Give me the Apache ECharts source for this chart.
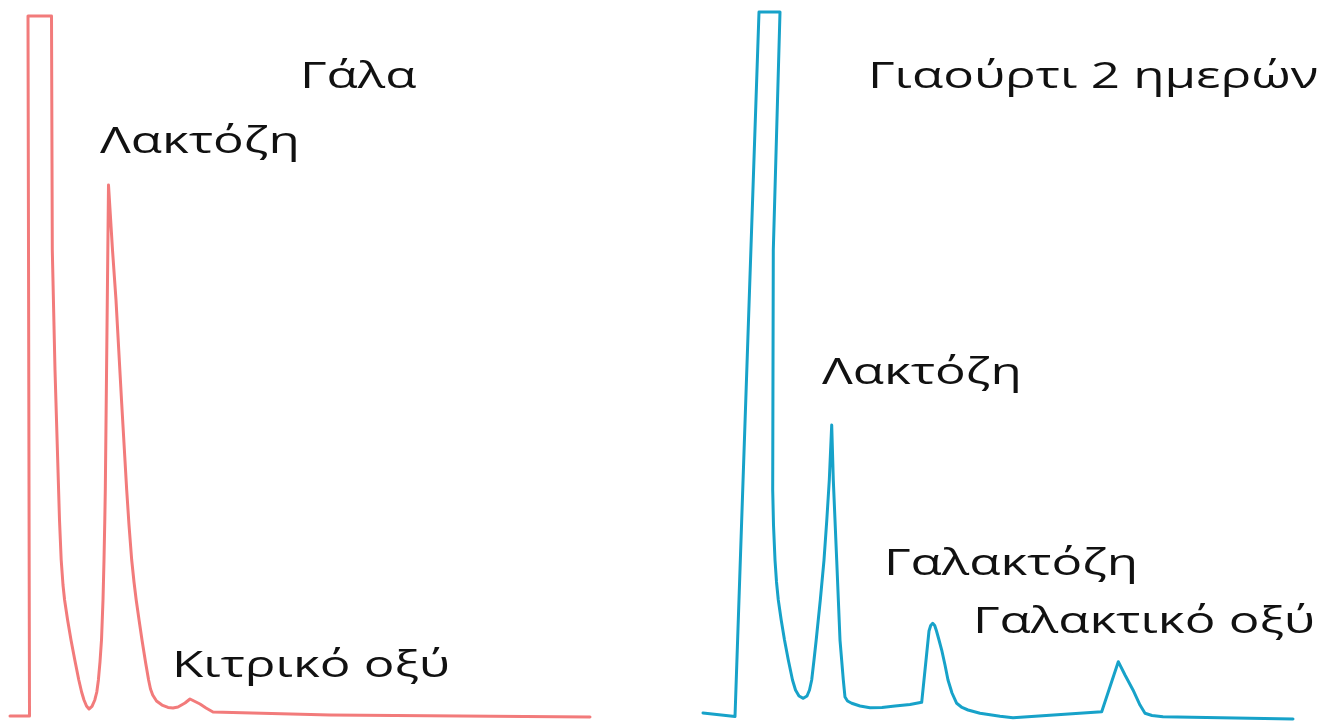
<!DOCTYPE html>
<html>
<head>
<meta charset="utf-8">
<script src="https://cdn.jsdelivr.net/npm/echarts@6/dist/echarts.min.js"></script>
<style>
  html, body { margin: 0; padding: 0; background: #ffffff; }
  #chart { width: 1324px; height: 721px; }
</style>
</head>
<body>
<div id="chart"></div>
<script>
// Retention time (min) and detector response (% of full scale) for each chromatogram.
const milkTime = [0, 0.975, 0.9, 2.075, 2.115, 2.25, 2.415, 2.475, 2.56, 2.65, 2.73, 2.88, 3.05, 3.24, 3.44, 3.58, 3.7, 3.825, 3.95, 4.1, 4.24, 4.34, 4.42, 4.5, 4.575, 4.65, 4.7, 4.74, 4.765, 4.865, 4.925, 5.125, 5.3, 5.575, 5.835, 5.95, 6.085, 6.2, 6.31, 6.46, 6.6, 6.775, 6.93, 7.025, 7.135, 7.325, 7.6, 7.9, 8.15, 8.4, 8.75, 9.0, 9.25, 9.5, 9.8, 10.15, 16.0, 29.0];
const milkResponse = [0.56, 0.56, 97.78, 97.78, 65.28, 48.61, 33.33, 27.78, 22.22, 18.75, 16.67, 13.89, 11.11, 8.33, 5.56, 3.89, 2.78, 1.94, 1.53, 1.88, 2.78, 3.89, 5.56, 8.06, 11.11, 16.67, 22.22, 27.78, 31.94, 58.33, 74.31, 65.28, 58.33, 44.44, 31.94, 27.08, 22.22, 19.17, 16.67, 13.75, 11.11, 8.06, 5.56, 4.31, 3.47, 2.64, 2.08, 1.74, 1.67, 1.81, 2.36, 2.92, 2.57, 2.22, 1.67, 1.11, 0.69, 0.42];

const yogurtTime = [0, 1.6, 2.8, 3.85, 3.515, 3.485, 3.525, 3.6, 3.675, 3.765, 3.91, 4.075, 4.265, 4.475, 4.625, 4.8, 5.015, 5.2, 5.325, 5.435, 5.55, 5.66, 5.865, 6.05, 6.19, 6.315, 6.435, 6.515, 6.685, 6.85, 7.015, 7.1, 7.225, 7.435, 7.85, 8.35, 8.95, 9.6, 10.35, 10.935, 11.3, 11.385, 11.485, 11.585, 11.675, 11.8, 11.935, 12.1, 12.25, 12.45, 12.685, 12.95, 13.25, 13.85, 14.85, 15.5, 19.935, 20.765, 21.1, 21.5, 21.85, 22.1, 22.45, 23.0, 29.5];
const yogurtResponse = [0.97, 0.49, 98.33, 98.33, 65.28, 31.94, 27.08, 22.22, 19.17, 16.67, 13.89, 11.11, 8.33, 5.56, 4.17, 3.33, 3.01, 3.33, 4.17, 5.56, 8.33, 11.11, 16.67, 22.22, 27.78, 33.33, 40.97, 33.33, 22.22, 11.11, 5.56, 3.19, 2.64, 2.32, 1.94, 1.71, 1.74, 1.94, 2.15, 2.46, 12.36, 13.13, 13.43, 13.13, 12.36, 11.11, 9.72, 7.64, 5.56, 3.75, 2.32, 1.74, 1.39, 0.93, 0.51, 0.32, 1.15, 8.1, 6.25, 4.17, 2.08, 0.93, 0.63, 0.46, 0.14];

// Text annotations: which chromatogram, and the text.
const labelTexts = ['Γάλα', 'Λακτόζη', 'Κιτρικό οξύ', 'Γιαούρτι 2 ημερών', 'Λακτόζη', 'Γαλακτόζη', 'Γαλακτικό οξύ'];
const labelPanel = [0, 0, 0, 1, 1, 1, 1];
// Anchor of each annotation (left edge, text middle) in [time, response].
const labelAnchor = [[14.5, 89.17], [4.5, 80.14], [8.1, 7.36], [8.25, 89.17], [5.95, 48.13], [9.05, 21.53], [13.5, 13.47]];

const MILK_COLOR = '#F27B7B';
const YOGURT_COLOR = '#17A2C9';
const TEXT_FONT = '36px "Open Sans"';
const TEXT_STRETCH = 1.42;

function pairs(xs, ys) { return xs.map((x, i) => [x, ys[i]]); }

const chart = echarts.init(document.getElementById('chart'), null, { renderer: 'canvas' });

const hiddenValueAxis = (gridIndex, min, max) => ({
  type: 'value', gridIndex, min, max, show: false,
  splitLine: { show: false }, axisLine: { show: false }, axisTick: { show: false }, axisLabel: { show: false }
});

chart.setOption({
  animation: false,
  backgroundColor: '#ffffff',
  grid: [
    { left: 10, top: 0, width: 580, height: 720 },
    { left: 703, top: 0, width: 600, height: 720 }
  ],
  xAxis: [hiddenValueAxis(0, 0, 29), hiddenValueAxis(1, 0, 30)],
  yAxis: [hiddenValueAxis(0, 0, 100), hiddenValueAxis(1, 0, 100)],
  series: [
    {
      name: 'Γάλα', type: 'line', xAxisIndex: 0, yAxisIndex: 0,
      data: pairs(milkTime, milkResponse),
      showSymbol: false, smooth: false, clip: false,
      lineStyle: { color: MILK_COLOR, width: 3, join: 'round', cap: 'round' }
    },
    {
      name: 'Γιαούρτι 2 ημερών', type: 'line', xAxisIndex: 1, yAxisIndex: 1,
      data: pairs(yogurtTime, yogurtResponse),
      showSymbol: false, smooth: false, clip: false,
      lineStyle: { color: YOGURT_COLOR, width: 3, join: 'round', cap: 'round' }
    }
  ]
});

// Annotations are placed from data coordinates and stretched horizontally.
const graphics = labelTexts.map((text, i) => {
  const p = chart.convertToPixel({ gridIndex: labelPanel[i] }, labelAnchor[i]);
  return {
    type: 'text', x: p[0], y: p[1], scaleX: TEXT_STRETCH, silent: true,
    style: {
      text, font: TEXT_FONT, fill: '#111111',
      align: 'left', verticalAlign: 'middle',
      textAlign: 'left', textVerticalAlign: 'middle'
    }
  };
});
chart.setOption({ graphic: graphics });
</script>
</body>
</html>
